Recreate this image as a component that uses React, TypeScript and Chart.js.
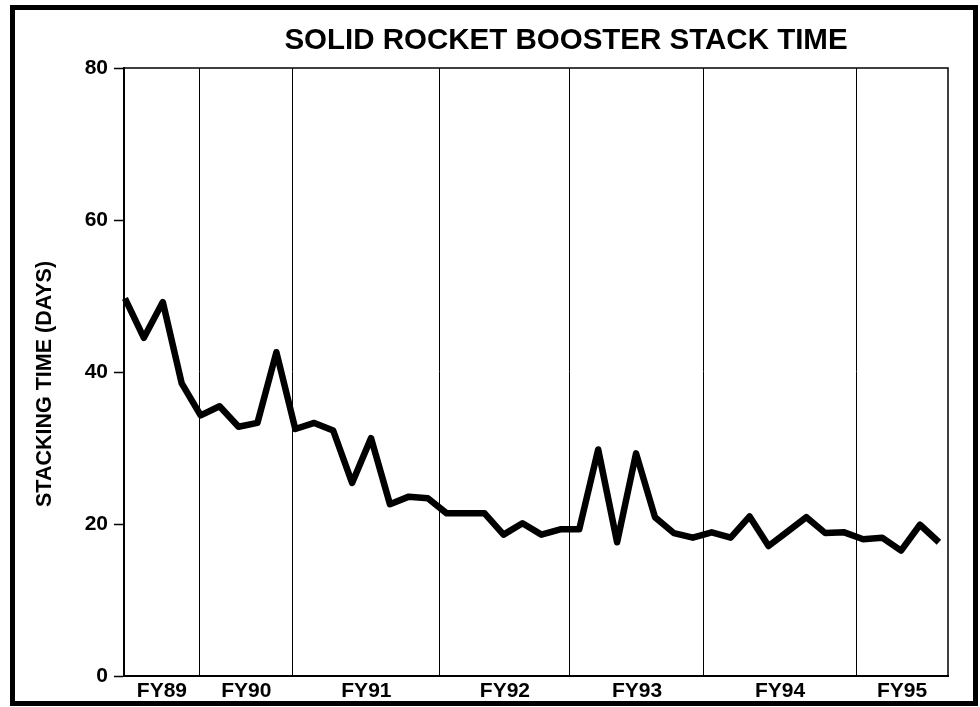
import { useEffect, useRef } from "react";
import { Chart, registerables } from "chart.js";

Chart.register(...registerables);

const chartTitle = "SOLID ROCKET BOOSTER STACK TIME";
const yAxisTitle = "STACKING TIME (DAYS)";

// stack time (days) for each successive flow, in order
const stackDays = [
  49.7, 44.5, 49.2, 38.5, 34.3, 35.5, 32.8, 33.3, 42.6, 32.5,
  33.3, 32.3, 25.4, 31.3, 22.6, 23.6, 23.4, 21.4, 21.4, 21.4,
  18.6, 20.1, 18.6, 19.3, 19.3, 29.8, 17.6, 29.3, 20.9, 18.8,
  18.2, 18.9, 18.2, 21.0, 17.1, 19.0, 20.9, 18.8, 18.9, 18.0,
  18.2, 16.5, 19.9, 17.6,
];

const fiscalYears = ["FY89", "FY90", "FY91", "FY92", "FY93", "FY94", "FY95"];
// fiscal year boundaries, in flow-index units
const fyBoundaries = [3.96, 8.87, 16.64, 23.51, 30.59, 38.62];
const flowMin = -0.05;
const flowMax = 43.48;

const yTicks = [0, 20, 40, 60, 80];

const FONT = "'Liberation Sans', Arial, Helvetica, sans-serif";

export default function App() {
  const ref = useRef<HTMLCanvasElement | null>(null);

  useEffect(() => {
    if (!ref.current) return;
    const edges = [flowMin, ...fyBoundaries, flowMax];
    const mids = fiscalYears.map((_, i) => (edges[i] + edges[i + 1]) / 2);
    const xTickValues = [...fyBoundaries, ...mids].sort((a, b) => a - b);
    const isBoundary = (v: number) => fyBoundaries.some((b) => Math.abs(b - v) < 1e-6);
    const labelFor = (v: number) => {
      const i = mids.findIndex((m) => Math.abs(m - v) < 1e-6);
      return i >= 0 ? fiscalYears[i] : "";
    };

    const framePlugin = {
      id: "frame",
      beforeDraw(chart: any) {
        const c = chart.ctx;
        c.save();
        c.fillStyle = "#ffffff";
        c.fillRect(0, 0, chart.width, chart.height);
        c.restore();
      },
      afterDraw(chart: any) {
        const c = chart.ctx;
        const a = chart.chartArea;
        c.save();
        c.strokeStyle = "#000";
        c.lineWidth = 1.5;
        c.beginPath();
        c.moveTo(a.left, a.top);
        c.lineTo(a.right, a.top);
        c.lineTo(a.right, a.bottom);
        c.stroke();
        c.lineWidth = 5;
        c.strokeRect(12.5, 7.5, 963, 696);
        c.fillStyle = "#000";
        c.font = `bold 29.5px ${FONT}`;
        c.textAlign = "center";
        c.textBaseline = "middle";
        c.fillText(chartTitle, 566, 41);
        c.restore();
      },
    };

    const chart = new Chart(ref.current, {
      type: "line",
      data: {
        datasets: [
          {
            data: stackDays.map((v, i) => ({ x: i, y: v })),
            borderColor: "#000",
            borderWidth: 6.5,
            pointRadius: 0,
            tension: 0,
            borderJoinStyle: "round",
            borderCapStyle: "butt",
            clip: false as any,
          },
        ],
      },
      options: {
        animation: false,
        responsive: false,
        layout: { padding: { left: 0, top: 68, right: 32, bottom: 0 } },
        plugins: {
          legend: { display: false },
          title: { display: false },
          tooltip: { enabled: false },
        },
        scales: {
          x: {
            type: "linear",
            min: flowMin,
            max: flowMax,
            afterBuildTicks: (scale: any) => {
              scale.ticks = xTickValues.map((v) => ({ value: v }));
            },
            afterFit: (scale: any) => {
              scale.height = 31;
            },
            grid: {
              drawTicks: false,
              color: (ctx: any) => (ctx.tick && isBoundary(ctx.tick.value) ? "#000" : "rgba(0,0,0,0)"),
              lineWidth: 1,
            },
            border: { display: true, color: "#000", width: 2 },
            ticks: {
              autoSkip: false,
              maxRotation: 0,
              padding: 3,
              color: "#000",
              font: { family: FONT, size: 21, weight: "bold" },
              callback: (v: any) => labelFor(Number(v)),
            },
          },
          y: {
            min: 0,
            max: 80,
            afterBuildTicks: (scale: any) => {
              scale.ticks = yTicks.map((v) => ({ value: v }));
            },
            afterFit: (scale: any) => {
              scale.width = 124;
            },
            grid: {
              drawOnChartArea: false,
              drawTicks: true,
              tickLength: 10,
              tickColor: "#000",
              tickWidth: 1.5,
            },
            border: { display: true, color: "#000", width: 2 },
            ticks: {
              padding: 6,
              color: "#000",
              font: { family: FONT, size: 21, weight: "bold" },
            },
            title: {
              display: true,
              text: yAxisTitle + "    ",
              color: "#000",
              font: { family: FONT, size: 21.5, weight: "bold" },
              padding: { top: 32, bottom: 0 },
            },
          },
        },
      },
      plugins: [framePlugin],
    });
    return () => chart.destroy();
  }, []);

  return (
    <div style={{ position: "absolute", left: 0, top: 0, width: 980, height: 707, background: "#fff" }}>
      <canvas ref={ref} width={980} height={707} style={{ display: "block" }} />
    </div>
  );
}
